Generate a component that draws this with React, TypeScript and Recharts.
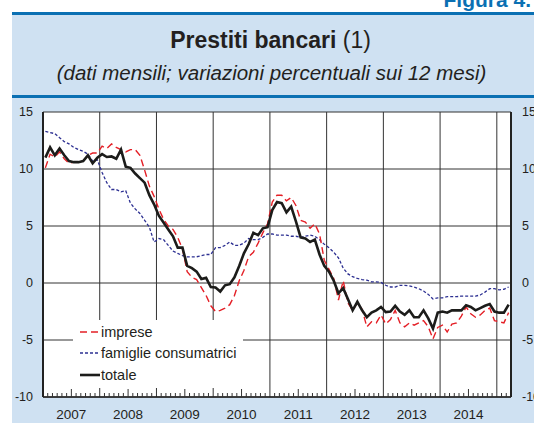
import { CartesianGrid, Legend, Line, LineChart, ReferenceLine, XAxis, YAxis } from 'recharts'

// monthly values, Jan 2007 -> Mar 2015
const IMPRESE = [
  10.1, 11.3, 11.05, 11.5, 10.9, 10.5, 10.6, 10.6, 10.7, 11.2, 11.4, 11.4,
  12.0, 11.8, 12.2, 11.9, 11.7, 11.5, 11.7, 11.7, 11.2, 9.9, 8.5, 7.6,
  6.5, 5.6, 5.0, 4.7, 4.0, 3.0, 1.0, 0.5, 0.3, -0.4, -1.1, -2.0,
  -2.5, -2.4, -2.2, -1.9, -1.1, 0.2, 1.1, 2.3, 2.7, 3.5, 4.4, 5.2,
  7.1, 7.7, 7.7, 7.2, 7.5, 6.8, 5.5, 5.35, 4.8, 5.2, 4.3, 2.0,
  1.2, 0.4, -1.5, 0.2, -1.75, -2.4, -1.75, -2.3, -3.85, -3.4, -3.5, -2.8,
  -3.6, -3.2, -2.4, -3.5, -3.85, -3.5, -3.7, -3.5, -3.3, -3.85, -4.9, -3.9,
  -3.7, -4.3, -3.6, -3.5, -2.9, -2.1, -2.7, -3.0, -2.8, -2.4, -2.2, -3.3,
  -3.4, -3.5, -2.6,
]

const FAMIGLIE = [
  13.3, 13.2, 13.1, 12.75, 12.4, 12.2, 11.9, 11.7, 11.55, 11.3, 10.7, 10.8,
  9.7, 8.8, 8.2, 8.2, 8.0, 8.1, 7.0, 6.5, 6.1, 5.5, 4.9, 3.6,
  3.9, 3.8, 3.3, 2.8, 2.6, 2.4, 2.3, 2.3, 2.3, 2.4, 2.5, 2.5,
  3.1, 3.1, 3.3, 3.6, 3.3, 3.3, 3.5, 3.9, 3.8, 3.8, 4.0, 4.3,
  4.3, 4.2, 4.2, 4.2, 4.1, 4.1, 4.0, 4.1, 4.2, 4.1, 3.8, 3.4,
  3.1, 2.7, 2.2, 1.3, 0.8, 0.55, 0.4, 0.3, 0.25, 0.1, 0.1, 0.05,
  -0.2, -0.35, -0.35, -0.2, -0.2, -0.25, -0.35, -0.5, -0.7, -1.0, -1.4, -1.3,
  -1.3, -1.2, -1.2, -1.2, -1.15, -1.15, -1.15, -1.15, -1.05, -0.8, -0.5, -0.5,
  -0.6, -0.55, -0.35,
]

const TOTALE = [
  11.0, 11.9, 11.2, 11.8, 11.2, 10.7, 10.6, 10.6, 10.7, 11.2, 10.5, 11.0,
  11.3, 11.05, 11.1, 10.9, 11.7, 10.2, 10.1, 9.6, 9.2, 8.8, 7.7, 6.9,
  5.9, 5.3, 4.7, 4.1, 3.1, 3.1, 1.5, 1.3, 1.0, 0.35, 0.45, -0.35,
  -0.4, -0.75, -0.2, -0.1, 0.5, 1.5, 2.6, 3.4, 4.4, 4.2, 4.8, 4.9,
  6.4, 7.1, 7.0, 6.2, 6.7, 5.4, 4.0, 3.9, 3.6, 3.8, 2.5, 1.5,
  1.0, 0.2, -0.9, -0.45, -1.4, -2.4, -1.65, -2.4, -3.0, -2.6, -2.4, -2.1,
  -2.55, -2.5, -2.0, -2.5, -2.8, -2.4, -3.0, -3.0, -2.4, -3.1, -4.0, -2.6,
  -2.5, -2.6, -2.4, -2.4, -2.4, -1.95, -2.1, -2.4, -2.2, -2.0, -1.85, -2.5,
  -2.6, -2.6, -1.9,
]

const YEARS = ['2007', '2008', '2009', '2010', '2011', '2012', '2013', '2014']
const Y_TICKS = [-10, -5, 0, 5, 10, 15]
const N_MONTHS = 99

const FONT = '"Liberation Sans", Arial, Helvetica, sans-serif'
const TEXT = '#231f20'
const RED = '#e41f26'
const BLUE = '#2d3092'
const BLACK = '#1c1c1a'
const PANEL = '#cfe1f2'
const BAND = '#0b70b3'
const GRID = '#333'

const SERIES = [
  { key: 'imprese', name: 'imprese', color: RED, width: 1.4, dash: '7 4' },
  { key: 'famiglie', name: 'famiglie consumatrici', color: BLUE, width: 1.3, dash: '3 2' },
  { key: 'totale', name: 'totale', color: BLACK, width: 2.6, dash: undefined as string | undefined },
]

const data = TOTALE.map((v, i) => ({
  t: i + 0.5,
  imprese: IMPRESE[i],
  famiglie: FAMIGLIE[i],
  totale: v,
}))

const monthTicks: number[] = []
for (let m = 0; m <= N_MONTHS; m++) monthTicks.push(m)
const yearLines = YEARS.map((_, k) => (k + 1) * 12)

function MonthTick(props: any) {
  const { x, y, payload } = props
  const m = payload.value as number
  if (m <= 0 || m >= N_MONTHS || m % 12 === 0) return <g />
  const mid = m % 12 === 6
  const label = mid ? YEARS[Math.floor(m / 12)] : null
  return (
    <g>
      <line x1={x} x2={x} y1={y} y2={y - (mid ? 8 : 4)} stroke="#333" strokeWidth={1} />
      {label && (
        <text x={x} y={y + 22} textAnchor="middle" fontSize={13.5} fill={TEXT} fontFamily={FONT}>
          {label}
        </text>
      )}
    </g>
  )
}

function LegendBox() {
  return (
    <div
      style={{
        width: 170,
        height: 68,
        background: '#fff',
        fontFamily: FONT,
        fontSize: 14.5,
        color: TEXT,
        boxSizing: 'border-box',
        paddingTop: 1,
      }}
    >
      {SERIES.map((s) => (
        <div key={s.key} style={{ display: 'flex', alignItems: 'center', height: 21.5 }}>
          <svg width={21} height={10} style={{ marginLeft: 7 }}>
            <line x1={0} x2={20} y1={5} y2={5} stroke={s.color} strokeWidth={s.width} strokeDasharray={s.dash} />
          </svg>
          <span>{s.name}</span>
        </div>
      ))}
    </div>
  )
}

export default function App() {
  return (
    <div
      style={{
        position: 'absolute',
        left: 0,
        top: 0,
        width: 534,
        height: 423,
        overflow: 'hidden',
        background: '#fff',
        fontFamily: FONT,
      }}
    >
      <div style={{ position: 'absolute', left: 12, top: 12, right: 0, bottom: 0, background: PANEL }} />
      <div style={{ position: 'absolute', left: 12, top: 12, right: 0, height: 3, background: BAND }} />
      <div style={{ position: 'absolute', left: 12, top: 95, right: 0, height: 3, background: BAND }} />
      <div
        style={{
          position: 'absolute',
          right: 3,
          top: -11,
          fontSize: 21,
          lineHeight: '21px',
          fontWeight: 700,
          color: BAND,
        }}
      >
        Figura 4.
      </div>
      <div
        style={{
          position: 'absolute',
          left: 0,
          width: 541,
          top: 29,
          textAlign: 'center',
          fontSize: 23,
          lineHeight: '23px',
          color: TEXT,
        }}
      >
        <span style={{ fontWeight: 700 }}>Prestiti bancari</span> (1)
      </div>
      <div
        style={{
          position: 'absolute',
          left: 0,
          width: 543,
          top: 63,
          textAlign: 'center',
          fontSize: 20.5,
          lineHeight: '20px',
          fontStyle: 'italic',
          color: TEXT,
        }}
      >
        (dati mensili; variazioni percentuali sui 12 mesi)
      </div>
      <div style={{ position: 'absolute', left: 0, top: 0 }}>
        <LineChart width={560} height={423} data={data} margin={{ top: 112, right: 0, bottom: 0, left: 0 }}>
          <CartesianGrid vertical={false} fill="#fff" stroke={GRID} strokeWidth={1} />
          {yearLines.map((m) => (
            <ReferenceLine key={m} x={m} stroke={GRID} strokeWidth={1} />
          ))}
          <XAxis
            type="number"
            dataKey="t"
            domain={[0, N_MONTHS]}
            ticks={monthTicks}
            interval={0}
            height={26}
            tickSize={0}
            tickMargin={0}
            tickLine={false}
            tick={MonthTick}
            axisLine={{ stroke: '#222', strokeWidth: 1.5 }}
            allowDataOverflow
          />
          <YAxis
            type="number"
            domain={[-10, 15]}
            ticks={Y_TICKS}
            interval={0}
            width={43}
            tickSize={0}
            tickMargin={10}
            tickLine={false}
            axisLine={{ stroke: '#222', strokeWidth: 2 }}
            tick={{ fontSize: 12.5, fill: TEXT, fontFamily: FONT }}
            allowDataOverflow
          />
          <YAxis
            yAxisId="r"
            orientation="right"
            type="number"
            domain={[-10, 15]}
            ticks={Y_TICKS}
            interval={0}
            width={49}
            tickSize={0}
            tickMargin={11}
            tickLine={false}
            axisLine={{ stroke: '#222', strokeWidth: 2 }}
            tick={{ fontSize: 12.5, fill: TEXT, fontFamily: FONT }}
            allowDataOverflow
          />
          <Legend
            layout="vertical"
            align="center"
            verticalAlign="middle"
            content={() => <LegendBox />}
            wrapperStyle={{ left: 73, top: 320, width: 170, height: 68 }}
          />
          <Line
            dataKey="famiglie"
            name="famiglie consumatrici"
            stroke={BLUE}
            strokeWidth={1.3}
            strokeDasharray="3 2"
            dot={false}
            isAnimationActive={false}
          />
          <Line
            dataKey="imprese"
            name="imprese"
            stroke={RED}
            strokeWidth={1.4}
            strokeDasharray="7 4"
            dot={false}
            isAnimationActive={false}
          />
          <Line
            dataKey="totale"
            name="totale"
            stroke={BLACK}
            strokeWidth={2.6}
            dot={false}
            isAnimationActive={false}
          />
        </LineChart>
      </div>
    </div>
  )
}
